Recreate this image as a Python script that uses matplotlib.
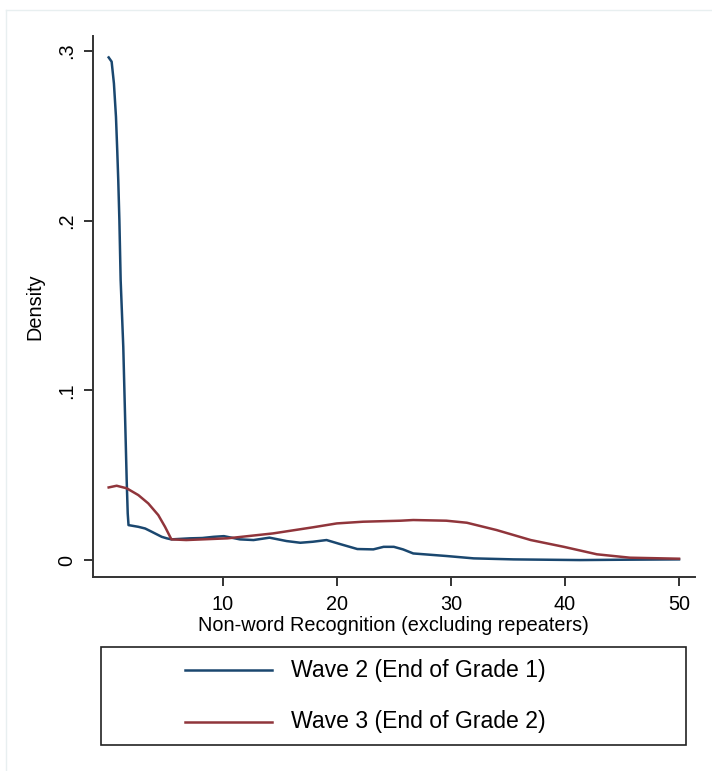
"""
Kernel density of non-word recognition scores, wave 2 vs wave 3
"""

import matplotlib
matplotlib.use("Agg")
import matplotlib.pyplot as plt
from matplotlib.lines import Line2D
from matplotlib.patches import Rectangle

plt.rcParams.update({
    "font.family": ["Liberation Sans", "DejaVu Sans"],
    "font.size": 14,
})

W, H = 712, 771

# Wave 2 (End of Grade 1)
wave2_x = [0, 0.26, 0.46, 0.64, 0.75, 0.84, 0.94, 1.05, 1.28, 1.43, 1.58, 1.67, 1.74,
           2.6, 3.2, 3.77, 4.65, 5.1, 5.5, 7.1, 8.2, 9.2, 10.1, 11.5, 12.7, 14.1, 15.6,
           16.8, 17.9, 19.1, 20.3, 21.8, 23.2, 24.1, 25.0, 25.8, 26.7, 29.6, 32.0,
           35.5, 41.3, 45.0, 50]
wave2_y = [0.2962, 0.2937, 0.2809, 0.2612, 0.2416, 0.224, 0.200, 0.165, 0.1257, 0.0866,
           0.047, 0.0275, 0.0206, 0.0196, 0.0186, 0.0167, 0.0137, 0.0128, 0.0122,
           0.0128, 0.0130, 0.0137, 0.0141, 0.0122, 0.0118, 0.0132, 0.0112, 0.0102,
           0.0108, 0.0118, 0.0094, 0.0065, 0.0063, 0.0078, 0.0078, 0.0063, 0.0039,
           0.0024, 0.0010, 0.0004, 0.0000, 0.0002, 0.0004]

# Wave 3 (End of Grade 2)
wave3_x = [0, 0.7, 1.58, 2.6, 3.47, 4.35, 4.94, 5.5, 6.8, 10.4, 14.4,
           17.9, 20, 22.3, 25.6, 26.7, 29.6, 31.4, 34.0, 37.0, 39.9, 42.8, 45.7, 50]
wave3_y = [0.0428, 0.0438, 0.0423, 0.0383, 0.0334, 0.0265, 0.0196, 0.0122,
           0.0118, 0.0128, 0.0157, 0.0193, 0.0216, 0.0226, 0.0232, 0.0236, 0.0232,
           0.0220, 0.0177, 0.0118, 0.0078, 0.0034, 0.0014, 0.0008]

series_labels = ["Wave 2 (End of Grade 1)", "Wave 3 (End of Grade 2)"]
series_colors = ["#1a476f", "#90353b"]

x_ticks = [10, 20, 30, 40, 50]
y_ticks = [0, 0.1, 0.2, 0.3]
y_ticklabels = ["0", ".1", ".2", ".3"]


def main():
    fig = plt.figure(figsize=(W / 100, H / 100), dpi=100)
    fig.patch.set_facecolor("white")

    # faint graph-region outline (left and top edges visible)
    fig.add_artist(Line2D([6 / W, 6 / W], [0, 1 - 10 / H], transform=fig.transFigure,
                          color="#e8eff0", lw=1.0))
    fig.add_artist(Line2D([6 / W, 1], [1 - 10 / H, 1 - 10 / H], transform=fig.transFigure,
                          color="#e8eff0", lw=1.0))

    left, right = 92.7 / W, 695 / W
    top, bottom = 1 - 35.7 / H, 1 - 576.7 / H
    ax = fig.add_axes([left, bottom, right - left, top - bottom])

    ax.plot(wave2_x, wave2_y, color=series_colors[0], lw=1.8, solid_joinstyle="round")
    ax.plot(wave3_x, wave3_y, color=series_colors[1], lw=1.8, solid_joinstyle="round")

    ax.set_xlim(-1.4, 51.4)
    ax.set_ylim(-0.0098, 0.309)

    for s in ["top", "right"]:
        ax.spines[s].set_visible(False)
    for s in ["left", "bottom"]:
        ax.spines[s].set_color("#333333")
        ax.spines[s].set_linewidth(1.4)

    ax.set_xticks(x_ticks)
    ax.set_yticks(y_ticks)
    ax.set_yticklabels(y_ticklabels, rotation=90, va="center")
    ax.tick_params(axis="both", length=6.5, width=1.4, color="#333333",
                   labelsize=14.3)
    ax.tick_params(axis="x", pad=7)
    ax.tick_params(axis="y", pad=5.5)

    ax.set_xlabel("Non-word Recognition (excluding repeaters)", fontsize=14.3, labelpad=1)
    ax.set_ylabel("Density", fontsize=14.3, labelpad=9)

    # legend box below the plot
    lx0, lx1 = 100.7 / W, 686 / W
    ly0, ly1 = 1 - 745 / H, 1 - 647.3 / H
    fig.add_artist(Rectangle((lx0, ly0), lx1 - lx0, ly1 - ly0, transform=fig.transFigure,
                             fill=False, edgecolor="#222222", lw=1.2))
    rows_y = [1 - 670 / H, 1 - 721.7 / H]
    for yy, lab, col in zip(rows_y, series_labels, series_colors):
        fig.add_artist(Line2D([185.3 / W, 272.3 / W], [yy, yy], transform=fig.transFigure,
                              color=col, lw=1.8))
        fig.text(291 / W, yy, lab, fontsize=16.6, va="center", ha="left")

    fig.savefig("out.png", dpi=100, facecolor="white")
    plt.close(fig)


if __name__ == "__main__":
    main()
